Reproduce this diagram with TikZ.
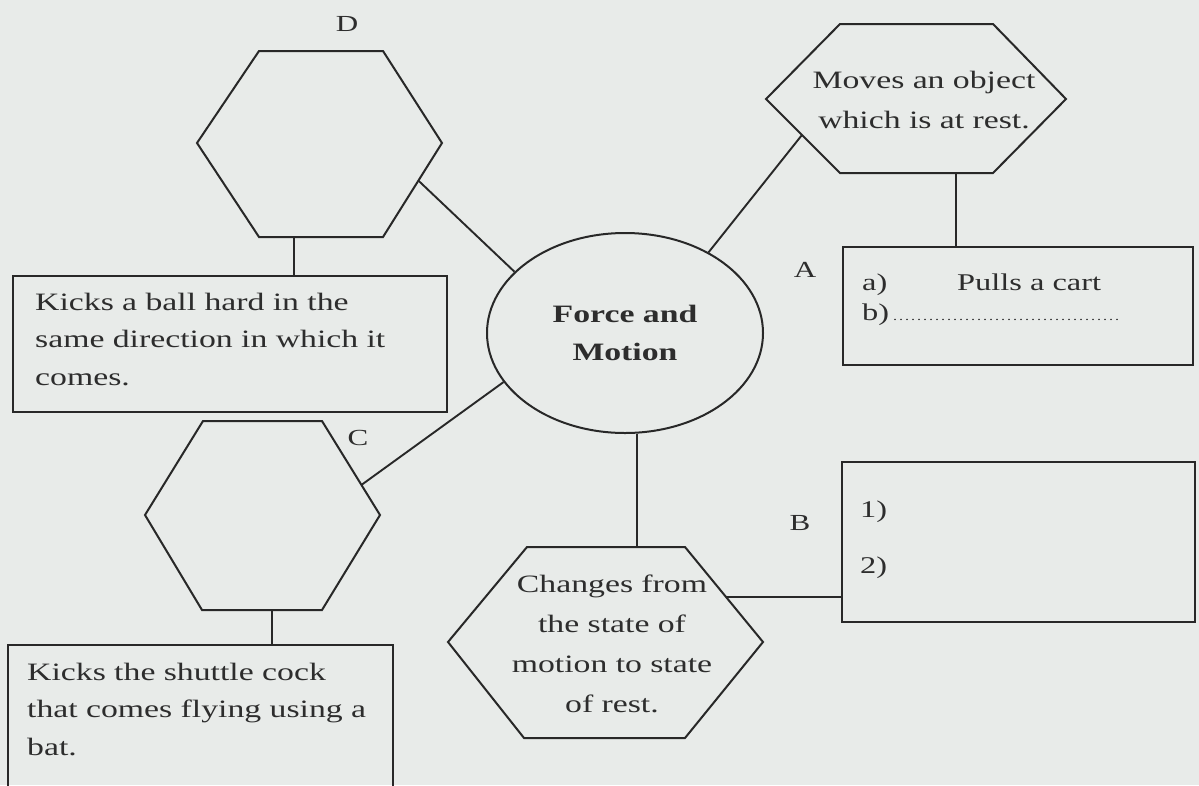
\documentclass[tikz,border=0pt]{standalone}
\usepackage{fontspec}
\setmainfont{Liberation Serif}[FakeStretch=1.35]
\usetikzlibrary{shapes.geometric,calc}
\definecolor{paper}{RGB}{232,235,233}
\definecolor{ink}{RGB}{40,40,40}
\definecolor{txt}{RGB}{45,45,45}
\begin{document}
\begin{tikzpicture}[x=1pt,y=-1pt,
  outline/.style={draw=ink,line width=2pt,line join=miter},
  link/.style={draw=ink,line width=1.9pt},
  frame/.style={draw=ink,line width=2.1pt,rectangle,inner sep=0pt},
  lefttext/.style={anchor=base west,inner sep=0pt,text width=#1,align=left,text=txt,font=\fontsize{25}{37.5}\selectfont},
  midtext/.style={anchor=base,inner sep=0pt,text width=#1,align=center,text=txt,font=\fontsize{25}{40}\selectfont},
  tag/.style={inner sep=0pt,text=txt,font=\fontsize{23}{23}\selectfont},
  smalltext/.style={anchor=base west,inner sep=0pt,text=txt,font=\fontsize{24}{24}\selectfont}
]
\fill[paper] (0,0) rectangle (1199,785);
\useasboundingbox (0,0) rectangle (1199,785);

% ---------- central ellipse ----------
\node[ellipse,draw=ink,line width=2pt,minimum width=276pt,minimum height=200pt,inner sep=0pt,
      align=center,text=txt,font=\fontsize{25}{38}\selectfont\bfseries] (E) at (625,333) {Force and\\Motion};

% ---------- hexagon D ----------
\coordinate (D1) at (197,143); \coordinate (D2) at (259,51); \coordinate (D3) at (383,51);
\coordinate (D4) at (442,143); \coordinate (D5) at (383,237); \coordinate (D6) at (259,237);
\draw[outline] (D1)--(D2)--(D3)--(D4)--(D5)--(D6)--cycle;
\node[tag] (labD) at (347,24) {D};

% box under D
\node[frame,minimum width=434pt,minimum height=136pt] (Dbox) at (230,344) {};
\node[lefttext=410pt] (Dtext) at (35,310) {Kicks a ball hard in the\\same direction in which it\\comes.};
\coordinate (Dbot) at (294,237);
\draw[link] (Dbot) -- (Dbot |- Dbox.north);
\coordinate (Dc) at ($(D4)!0.40!(D5)$);
\draw[link] (Dc) -- (E.151.6);

% ---------- hexagon "Moves" ----------
\coordinate (M1) at (766,99); \coordinate (M2) at (840,24); \coordinate (M3) at (993,24);
\coordinate (M4) at (1066,99); \coordinate (M5) at (993,173); \coordinate (M6) at (840,173);
\draw[outline] (M1)--(M2)--(M3)--(M4)--(M5)--(M6)--cycle;
\node[midtext=280pt] (Mtext) at (924,88) {Moves an object\\which is at rest.};
\coordinate (Mc) at ($(M1)!0.486!(M6)$);
\draw[link] (Mc) -- (E.44.3);

% box A
\node[frame,minimum width=350pt,minimum height=118pt] (Abox) at (1018,306) {};
\node[tag] (labA) at (805,270) {A};
\coordinate (Mbot) at (956,173);
\draw[link] (Mbot) -- (Mbot |- Abox.north);
\node[smalltext] (Aa) at (862,290) {a)};
\node[smalltext] (Ab) at (957,290) {Pulls a cart};
\node[smalltext] (Ac) at (862,320) {b)\hspace{3pt}{\fontsize{12}{12}\selectfont\foreach \i in {1,...,38}{\makebox[6pt]{.}}}};

% ---------- bottom hexagon ----------
\coordinate (H1) at (448,642); \coordinate (H2) at (527,547); \coordinate (H3) at (685,547);
\coordinate (H4) at (763,642); \coordinate (H5) at (685,738); \coordinate (H6) at (524,738);
\draw[outline] (H1)--(H2)--(H3)--(H4)--(H5)--(H6)--cycle;
\node[midtext=300pt] (Htext) at (612,592) {Changes from\\the state of\\motion to state\\of rest.};
\draw[link] (E.277.4) -- (E.277.4 |- H2);

% box B
\node[frame,minimum width=353pt,minimum height=160pt] (Bbox) at (1018.5,542) {};
\node[tag] (labB) at (800,523) {B};
\node[smalltext] (B1) at (860,517) {1)};
\node[smalltext] (B2) at (860,573) {2)};
\coordinate (Hc) at ($(H3)!0.526!(H4)$);
\draw[link] (Hc) -- (Hc -| Bbox.west);

% ---------- hexagon C ----------
\coordinate (C1) at (145,515); \coordinate (C2) at (203,421); \coordinate (C3) at (322,421);
\coordinate (C4) at (380,515); \coordinate (C5) at (322,610); \coordinate (C6) at (202,610);
\draw[outline] (C1)--(C2)--(C3)--(C4)--(C5)--(C6)--cycle;
\node[tag] (labC) at (358,438) {C};
\coordinate (Cc) at ($(C3)!0.68!(C4)$);
\draw[link] (Cc) -- (E.202.3);

% box under C
\node[frame,minimum width=385pt,minimum height=160pt] (Cbox) at (200.5,725) {};
\node[lefttext=370pt] (Ctext) at (27,680) {Kicks the shuttle cock\\that comes flying using a\\bat.};
\coordinate (Cbot) at (272,610);
\draw[link] (Cbot) -- (Cbot |- Cbox.north);
\end{tikzpicture}
\end{document}
